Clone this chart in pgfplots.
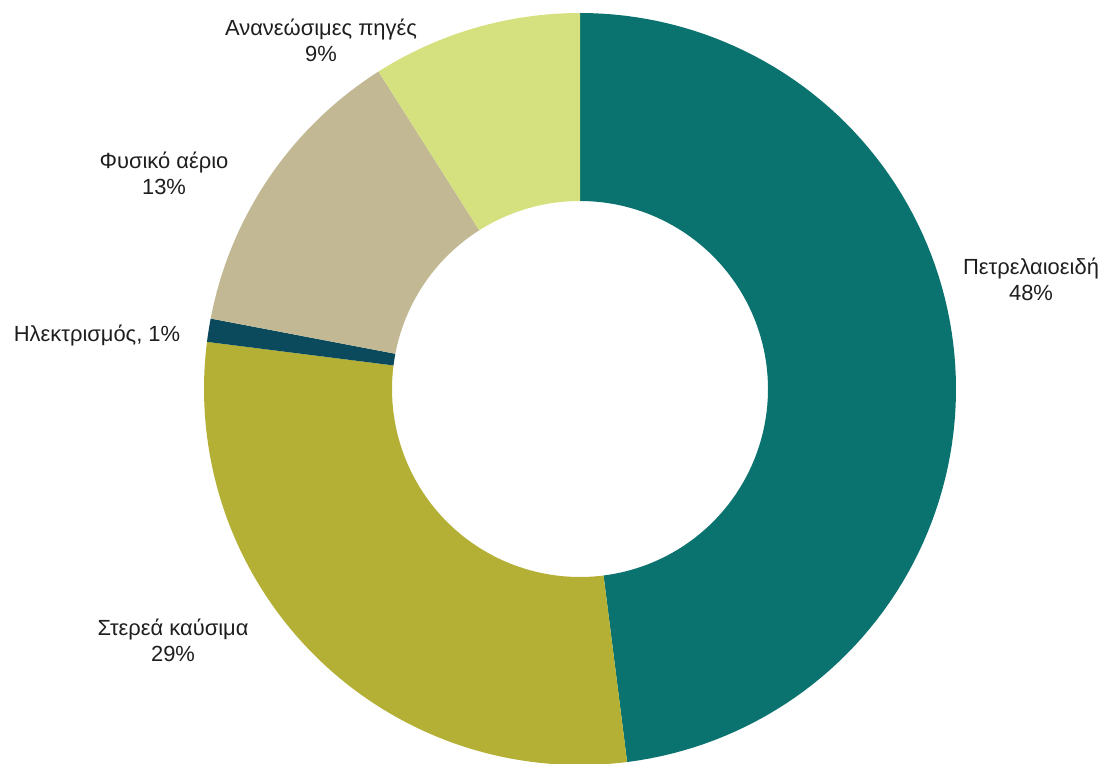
\documentclass[border=0pt]{standalone}
\usepackage{pgfplots}
\pgfplotsset{compat=1.18}
\usepackage{fontspec}
\setmainfont{Liberation Sans}
\definecolor{cPetr}{HTML}{0A7370}
\definecolor{cSter}{HTML}{B4B036}
\definecolor{cIlek}{HTML}{0B4A5C}
\definecolor{cFys}{HTML}{C2B994}
\definecolor{cAnan}{HTML}{D5E17E}
\definecolor{txt}{HTML}{1E1E1E}
% Shares (%): Petrelaioeidi 48, Sterea kausima 29, Ilektrismos 1, Fysiko aerio 13, Ananeosimes piges 9
% cumulative bounds (%), clockwise from 12 o'clock: 0, 48, 77, 78, 91, 100
\newcommand{\slice}[3]{%
  \addplot[fill=#1, draw=none, samples at={0,1,...,100,101,102,...,201}]
  ({580+(x<100.5 ? 376 : 188)*cos((x<100.5) ? ((90-3.6*#2)+((90-3.6*#3)-(90-3.6*#2))*x/100) : ((90-3.6*#3)-((90-3.6*#3)-(90-3.6*#2))*(x-101)/100))},
   {375+(x<100.5 ? 376 : 188)*sin((x<100.5) ? ((90-3.6*#2)+((90-3.6*#3)-(90-3.6*#2))*x/100) : ((90-3.6*#3)-((90-3.6*#3)-(90-3.6*#2))*(x-101)/100))});
}
\begin{document}
\begin{tikzpicture}
\begin{axis}[
  width=1113bp, height=764bp, scale only axis,
  xmin=0, xmax=1113, ymin=0, ymax=764,
  hide axis, no markers,
]
\path (rel axis cs:0,0) rectangle (rel axis cs:1,1);
\slice{cPetr}{0}{48}
\slice{cSter}{48}{77}
\slice{cIlek}{77}{78}
\slice{cFys}{78}{91}
\slice{cAnan}{91}{100}
\begin{scope}[every node/.style={font=\fontsize{22}{26}\selectfont, text=txt, align=center, inner sep=0pt}]
\node at (axis cs:1031,485) {Πετρελαιοειδή\\48\%};
\node at (axis cs:173,124) {Στερεά καύσιμα\\29\%};
\node at (axis cs:97,428) {Ηλεκτρισμός, 1\%};
\node at (axis cs:164,591) {Φυσικό αέριο\\13\%};
\node at (axis cs:321,724) {Ανανεώσιμες πηγές\\9\%};
\end{scope}
\end{axis}
\end{tikzpicture}
\end{document}
